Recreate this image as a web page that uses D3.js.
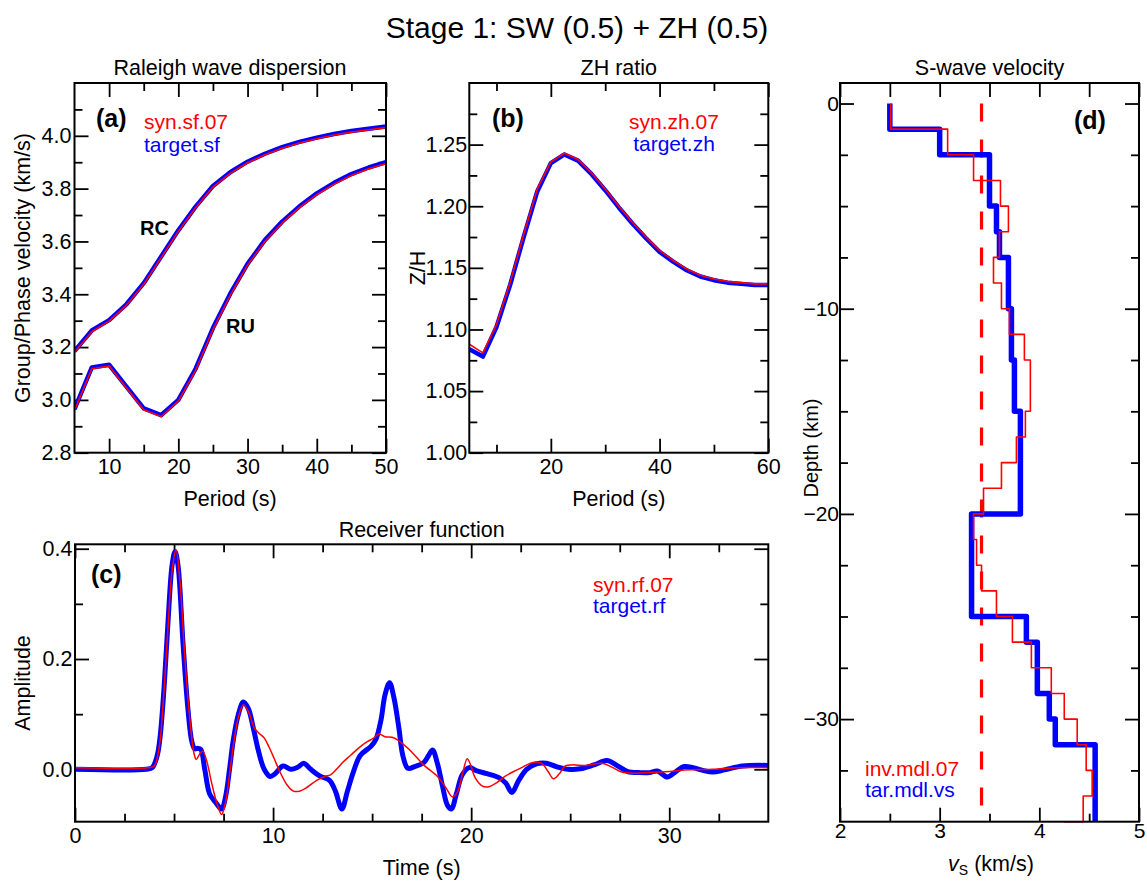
<!DOCTYPE html>
<html><head><meta charset="utf-8">
<script src="https://cdn.jsdelivr.net/npm/d3@7"></script>
<style>
body{margin:0;background:#fff;}
svg{display:block;font-family:"Liberation Sans",Arial,Helvetica,sans-serif;}
</style></head><body>
<svg id="chart" width="1147" height="882"></svg>
<script>
// ---------------- DATA ----------------
// (a) Rayleigh wave dispersion
const dispPeriods = [5,7.5,10,12.5,15,17.5,20,22.5,25,27.5,30,32.5,35,37.5,40,42.5,45,47.5,50];
const rcTarget = [3.185,3.263,3.302,3.362,3.442,3.542,3.642,3.732,3.810,3.862,3.902,3.932,3.957,3.977,3.993,4.007,4.018,4.027,4.035];
const rcSyn    = [3.180,3.258,3.298,3.358,3.438,3.538,3.638,3.728,3.806,3.858,3.898,3.928,3.953,3.973,3.989,4.003,4.014,4.023,4.031];
const ruTarget = [2.965,3.123,3.133,3.050,2.968,2.942,3.000,3.118,3.272,3.402,3.515,3.605,3.675,3.733,3.782,3.822,3.855,3.880,3.900];
const ruSyn    = [2.960,3.118,3.128,3.045,2.963,2.937,2.995,3.112,3.266,3.396,3.510,3.600,3.670,3.728,3.777,3.817,3.850,3.875,3.895];
// (b) ZH ratio
const zhPeriods = [5,7.5,10,12.5,15,17.5,20,22.5,25,27.5,30,32.5,35,37.5,40,42.5,45,47.5,50,52.5,55,57.5,60];
const zhTarget = [1.084,1.078,1.102,1.136,1.175,1.212,1.235,1.242,1.237,1.226,1.213,1.199,1.186,1.174,1.163,1.155,1.148,1.143,1.140,1.138,1.137,1.136,1.136];
const zhSyn    = [1.088,1.081,1.104,1.138,1.177,1.214,1.236,1.243,1.238,1.227,1.214,1.200,1.187,1.175,1.164,1.156,1.149,1.144,1.141,1.139,1.138,1.137,1.137];
// (c) Receiver function
const rfTimeTarget = [0,3.6,3.9,4.15,4.3,4.5,4.7,4.9,5.05,5.2,5.45,5.7,5.9,6.05,6.2,6.35,6.55,6.8,7.1,7.4,7.6,7.8,8.0,8.25,8.5,8.75,9.0,9.25,9.55,9.85,10.1,10.5,10.9,11.25,11.55,11.9,12.35,12.85,13.15,13.47,13.75,14.05,14.4,14.95,15.2,15.45,15.65,15.88,16.1,16.35,16.55,16.8,17.15,17.6,17.85,18.05,18.3,18.55,18.8,19.0,19.25,19.55,19.9,20.3,20.8,21.4,21.75,22.05,22.4,22.8,23.3,23.8,24.3,24.9,25.5,26.2,26.85,27.4,27.9,28.5,29.0,29.4,29.9,30.3,30.75,31.2,31.7,32.2,32.8,33.7,35];
const rfAmpTarget  = [0,0,0.003,0.025,0.06,0.15,0.27,0.37,0.395,0.37,0.23,0.11,0.05,0.037,0.038,0.036,0.0,-0.045,-0.06,-0.072,-0.05,0.0,0.055,0.10,0.122,0.11,0.075,0.035,0.0,-0.013,-0.008,0.006,0.0,0.004,0.011,0.0,-0.012,-0.02,-0.04,-0.072,-0.04,-0.005,0.025,0.042,0.055,0.09,0.135,0.157,0.13,0.075,0.025,0.002,0.005,0.012,0.025,0.035,0.01,-0.03,-0.065,-0.072,-0.045,-0.01,0.003,-0.003,-0.008,-0.015,-0.025,-0.042,-0.02,0.0,0.01,0.011,0.005,0.0,0.001,0.008,0.016,0.006,-0.004,-0.006,-0.006,-0.003,-0.014,-0.005,0.005,0.003,-0.002,-0.005,-0.001,0.006,0.007];
const rfTimeSyn = [0,3.7,4.0,4.25,4.45,4.7,4.9,5.1,5.3,5.55,5.8,6.0,6.12,6.3,6.45,6.65,6.9,7.15,7.4,7.6,7.8,8.0,8.25,8.5,8.75,9.05,9.3,9.55,9.8,10.05,10.35,10.7,11.0,11.3,11.7,12.2,12.6,12.9,13.2,13.5,13.9,14.3,14.75,15.05,15.35,15.65,16.0,16.3,16.9,17.6,18.3,18.7,19.05,19.3,19.55,19.8,19.95,20.2,20.55,20.85,21.3,21.7,22.15,22.6,23.0,23.35,23.6,23.9,24.15,24.45,24.75,25.1,25.8,26.6,27.1,27.6,28.3,29.0,30.0,31.0,32.2,33.5,35];
const rfAmpSyn  = [0.003,0.003,0.006,0.04,0.12,0.26,0.36,0.398,0.34,0.2,0.09,0.03,0.018,0.028,0.033,0.015,-0.025,-0.06,-0.082,-0.06,-0.01,0.045,0.095,0.117,0.105,0.075,0.065,0.057,0.04,0.02,-0.005,-0.028,-0.039,-0.04,-0.033,-0.02,-0.013,-0.01,0.0,0.012,0.025,0.038,0.05,0.056,0.064,0.059,0.058,0.053,0.035,0.008,-0.013,-0.032,-0.05,-0.042,-0.01,0.019,0.01,-0.015,-0.03,-0.032,-0.024,-0.013,-0.004,0.004,0.011,0.013,0.01,-0.005,-0.017,-0.008,0.006,0.008,0.007,0.011,0.004,-0.005,-0.007,-0.006,-0.004,-0.001,0.0,0.003,0.003];
// (d) S-wave velocity models (layer top depths in km, vs in km/s)
const tarTop = [0,1.25,2.5,5,6.25,7.5,10,12.5,15,20,25,26.25,28.75,30,31.25];
const tarVs  = [2.50,3.00,3.50,3.57,3.60,3.69,3.72,3.75,3.81,3.32,3.87,3.98,4.10,4.16,4.56];
const invTop = [0,1.25,2.5,3.75,5,6.25,7.5,8.75,10,11.25,12.5,15,16.25,17.5,18.75,20,21.25,22.5,23.75,25,26.25,27.5,28.75,30,31.25,32.5,33.75];
const invVs  = [2.51,3.08,3.34,3.61,3.69,3.60,3.54,3.62,3.70,3.85,3.91,3.86,3.77,3.62,3.44,3.34,3.37,3.42,3.57,3.73,3.92,4.12,4.25,4.38,4.47,4.53,4.44];
const invHalfSpaceVs = 4.25;
const modelBottom = 35;
const refVs = 3.42;
// tick values
const aXMajor=[10,20,30,40,50], aXMinor=[15,25,35,45];
const aYMajor=[2.8,3.0,3.2,3.4,3.6,3.8,4.0], aYMinor=[2.9,3.1,3.3,3.5,3.7,3.9,4.1];
const bXMajor=[20,40,60], bXMinor=[10,30,50];
const bYMajor=[1.00,1.05,1.10,1.15,1.20,1.25], bYMinor=[1.025,1.075,1.125,1.175,1.225,1.275];
const cXMajor=[0,10,20,30], cXMinor=[2.5,5,7.5,12.5,15,17.5,22.5,25,27.5,32.5];
const cYMajor=[0,0.2,0.4], cYMinor=[0.1,0.3];
const dXMajor=[2,3,4,5], dXMinor=[2.5,3.5,4.5];
const dYMajor=[0,-10,-20,-30], dYMinor=[-2.5,-5,-7.5,-12.5,-15,-17.5,-22.5,-25,-27.5,-32.5];

// ---------------- DRAW ----------------
const FONT='"Liberation Sans", Arial, Helvetica, sans-serif';
const RED="#ff0000", BLUE="#0000ff";
const TICKFS=21.5, LABFS=21.5;
const svg=d3.select("#chart");
const defs=svg.append("defs");

function addPanel(o){
  const x=d3.scaleLinear().domain(o.xDomain).range([o.l,o.r]);
  const y=d3.scaleLinear().domain(o.yDomain).range([o.b,o.t]);
  const g=svg.append("g");
  const pad=o.clipPad||0;
  defs.append("clipPath").attr("id","clip"+o.id).append("rect")
    .attr("x",o.l).attr("y",o.t).attr("width",o.r-o.l).attr("height",o.b-o.t+pad);
  const none=()=> "";
  const axes=[
    [d3.axisBottom(x).tickValues(o.xMinor).tickSize(-8).tickFormat(none),`translate(0,${o.b})`],
    [d3.axisBottom(x).tickValues(o.xMajor).tickSize(-14).tickPadding(o.xPad).tickFormat(o.xFmt),`translate(0,${o.b})`],
    [d3.axisTop(x).tickValues(o.xMinor).tickSize(-(o.topMinorLen||8)).tickFormat(none),`translate(0,${o.t})`],
    [d3.axisTop(x).tickValues(o.xMajor).tickSize(-14).tickFormat(none),`translate(0,${o.t})`],
    [d3.axisLeft(y).tickValues(o.yMinor).tickSize(-8).tickFormat(none),`translate(${o.l},0)`],
    [d3.axisLeft(y).tickValues(o.yMajor).tickSize(-14).tickPadding(o.yPad).tickFormat(o.yFmt),`translate(${o.l},0)`],
    [d3.axisRight(y).tickValues(o.yMinor).tickSize(-8).tickFormat(none),`translate(${o.r},0)`],
    [d3.axisRight(y).tickValues(o.yMajor).tickSize(-14).tickFormat(none),`translate(${o.r},0)`]
  ];
  axes.forEach(([ax,tr])=>{
    const a=g.append("g").attr("transform",tr).call(ax.tickSizeOuter(0));
    a.select(".domain").remove();
    a.selectAll("line").attr("stroke","#000").attr("stroke-width",1.8);
    a.selectAll("text").attr("font-size",o.tickFs||TICKFS).attr("font-family",FONT).attr("fill","#000");
  });
  const plot=svg.append("g").attr("clip-path",`url(#clip${o.id})`);
  svg.append("rect").attr("x",o.l).attr("y",o.t).attr("width",o.r-o.l).attr("height",o.b-o.t)
    .attr("fill","none").attr("stroke","#000").attr("stroke-width",2);
  return {x,y,plot};
}
function drawLine(p,xs,ys,color,width,curve){
  p.plot.append("path").datum(d3.zip(xs,ys))
    .attr("d",d3.line().x(d=>p.x(d[0])).y(d=>p.y(d[1])).curve(curve||d3.curveLinear))
    .attr("fill","none").attr("stroke",color).attr("stroke-width",width)
    .attr("stroke-linejoin","round").attr("stroke-linecap","butt");
}
function txt(x,y,s,opt){
  opt=opt||{};
  const t=svg.append("text").attr("x",x).attr("y",y).text(s)
    .attr("font-family",FONT).attr("font-size",opt.size||LABFS)
    .attr("fill",opt.color||"#000").attr("text-anchor",opt.anchor||"start");
  if(opt.bold) t.attr("font-weight","bold");
  if(opt.rotate) t.attr("transform",`rotate(-90,${x},${y})`);
  return t;
}

// Panel (a)
const pa=addPanel({id:"a",l:74.5,r:386,t:83,b:452.7,xDomain:[5,50],yDomain:[2.8,4.2],
  xMajor:aXMajor,xMinor:aXMinor,yMajor:aYMajor,yMinor:aYMinor,xPad:6,yPad:3,
  xFmt:d3.format("d"),yFmt:d3.format(".1f")});
drawLine(pa,dispPeriods,rcTarget,BLUE,4.5);
drawLine(pa,dispPeriods,ruTarget,BLUE,4.5);
drawLine(pa,dispPeriods,rcSyn,RED,1.6);
drawLine(pa,dispPeriods,ruSyn,RED,1.6);

// Panel (b)
const pb=addPanel({id:"b",l:469.3,r:768.3,t:83,b:452.7,xDomain:[5,60],yDomain:[1.0,1.3],
  xMajor:bXMajor,xMinor:bXMinor,yMajor:bYMajor,yMinor:bYMinor,xPad:6,yPad:2,
  xFmt:d3.format("d"),yFmt:d3.format(".2f")});
drawLine(pb,zhPeriods,zhTarget,BLUE,4.5);
drawLine(pb,zhPeriods,zhSyn,RED,1.6);

// Panel (c)
const pc=addPanel({id:"c",l:75,r:768.3,t:544.3,b:821.7,xDomain:[0,35],yDomain:[-0.095,0.408],
  xMajor:cXMajor,xMinor:cXMinor,yMajor:cYMajor,yMinor:cYMinor,xPad:6,yPad:2.5,
  xFmt:d3.format("d"),yFmt:d3.format(".1f")});
drawLine(pc,rfTimeTarget,rfAmpTarget,BLUE,5,d3.curveCatmullRom.alpha(0.5));
drawLine(pc,rfTimeSyn,rfAmpSyn,RED,1.5,d3.curveCatmullRom.alpha(0.5));

// Panel (d)
const pd=addPanel({id:"d",l:840,r:1139,t:83,b:821.7,xDomain:[2,5],yDomain:[-35,1],
  xMajor:dXMajor,xMinor:dXMinor,yMajor:dYMajor,yMinor:dYMinor,xPad:1,yPad:1,topMinorLen:14,clipPad:2,tickFs:21,
  xFmt:d3.format("d"),yFmt:d3.format("d")});
function stepPoints(tops,vs,bottom,half){
  const xs=[],ys=[];
  tops.forEach((t,i)=>{const b=i<tops.length-1?tops[i+1]:bottom; xs.push(vs[i],vs[i]); ys.push(-t,-b);});
  if(half!==undefined){xs.push(half); ys.push(-bottom);}
  return [xs,ys];
}
pd.plot.append("line").attr("x1",pd.x(refVs)).attr("x2",pd.x(refVs)).attr("y1",pd.y(0)).attr("y2",pd.y(-modelBottom))
  .attr("stroke",RED).attr("stroke-width",3.2).attr("stroke-dasharray","18,18");
const tp=stepPoints(tarTop,tarVs,modelBottom);
drawLine(pd,tp[0],tp[1],BLUE,5.5);
const ip=stepPoints(invTop,invVs,modelBottom,invHalfSpaceVs);
drawLine(pd,ip[0],ip[1],RED,1.6);

// ---------------- TEXT ----------------
txt(577,38,"Stage 1: SW (0.5) + ZH (0.5)",{size:30,anchor:"middle"});
txt(230,75,"Raleigh wave dispersion",{anchor:"middle"});
txt(618.8,75,"ZH ratio",{anchor:"middle"});
txt(989.5,75,"S-wave velocity",{anchor:"middle"});
txt(421.7,537,"Receiver function",{anchor:"middle"});

txt(230,506,"Period (s)",{anchor:"middle"});
txt(618.8,506,"Period (s)",{anchor:"middle"});
txt(421.7,875,"Time (s)",{anchor:"middle"});
txt(30,268,"Group/Phase velocity (km/s)",{anchor:"middle",rotate:true});
txt(425,268,"Z/H",{anchor:"middle",rotate:true});
txt(30,683,"Amplitude",{anchor:"middle",rotate:true});
txt(818,448,"Depth (km)",{anchor:"middle",rotate:true,size:20});
const vsl=svg.append("text").attr("x",991).attr("y",871).attr("text-anchor","middle")
  .attr("font-family",FONT).attr("font-size",LABFS).attr("fill","#000");
vsl.append("tspan").attr("font-style","italic").text("v");
vsl.append("tspan").attr("font-size",14).attr("dy",4).text("S");
vsl.append("tspan").attr("dy",-4).text(" (km/s)");

txt(96,127,"(a)",{size:25,bold:true});
txt(492,127,"(b)",{size:25,bold:true});
txt(91,583,"(c)",{size:25,bold:true});
txt(1074,129,"(d)",{size:25,bold:true});
txt(140,235,"RC",{size:20,bold:true});
txt(226,333,"RU",{size:20,bold:true});

txt(144,129,"syn.sf.07",{color:RED,size:21});
txt(144,152,"target.sf",{color:BLUE,size:21});
txt(674,129,"syn.zh.07",{color:RED,anchor:"middle",size:21});
txt(674,151,"target.zh",{color:BLUE,anchor:"middle",size:21});
txt(593,592,"syn.rf.07",{color:RED,size:21});
txt(593,613,"target.rf",{color:BLUE,size:21});
txt(865,776,"inv.mdl.07",{color:RED,size:21});
txt(865,797,"tar.mdl.vs",{color:BLUE,size:21});
</script>
</body></html>
